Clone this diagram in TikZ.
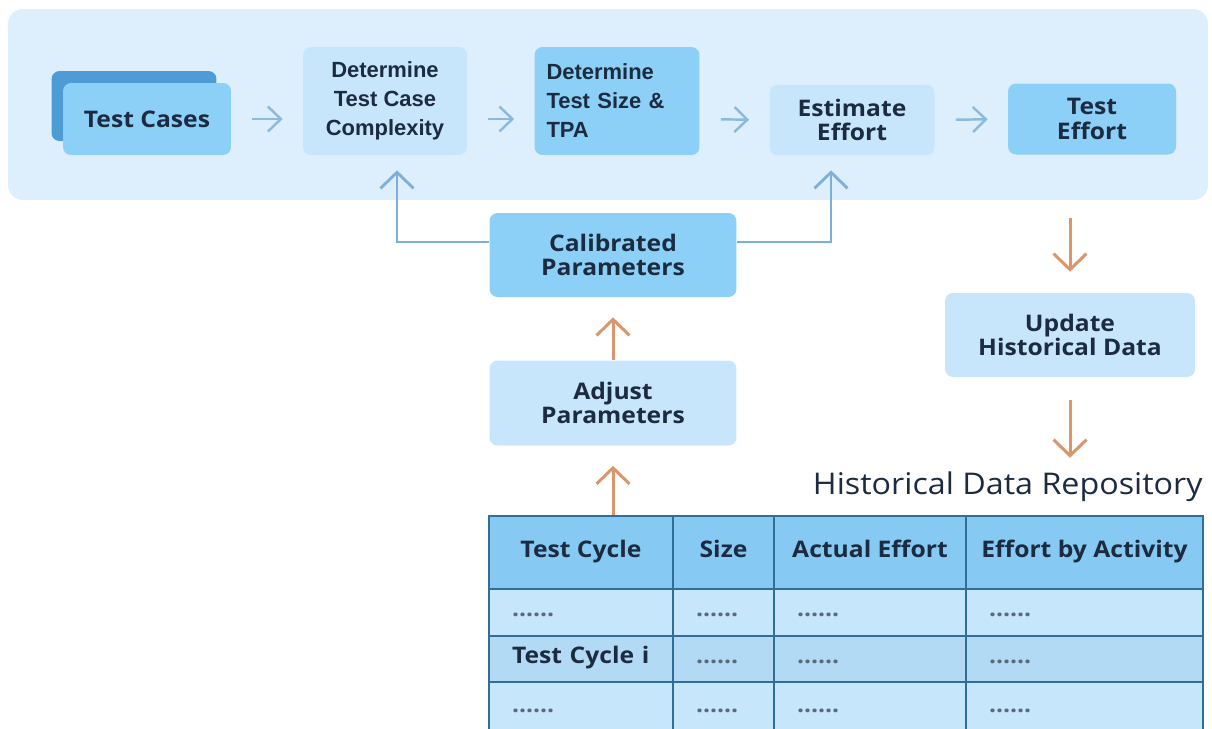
\documentclass[tikz,border=0pt]{standalone}
\usepackage{fontspec}
\setmainfont{Open Sans}[FakeStretch=1.08]
\newfontfamily\arialfont{Liberation Sans}
\usetikzlibrary{arrows.meta}
\definecolor{panelfill}{HTML}{DDEFFC}
\definecolor{boxmid}{HTML}{8CCFF7}
\definecolor{boxdark}{HTML}{4E9CD6}
\definecolor{boxlight}{HTML}{C8E6FB}
\definecolor{rowfill}{HTML}{C5E6FB}
\definecolor{rowalt}{HTML}{B2DAF4}
\definecolor{hdrfill}{HTML}{86C9F2}
\definecolor{gridink}{HTML}{2F6F97}
\definecolor{flowblue}{HTML}{8DB9DC}
\definecolor{linkblue}{HTML}{7DAFD8}
\definecolor{feedorange}{HTML}{D8966A}
\definecolor{labelink}{HTML}{1C2B3F}
\definecolor{dotgray}{HTML}{5A6A7A}
\newcommand\gapdots{{\color{dotgray}......}}
\newcommand\tabcols{1/489/673/Test Cycle, 2/673/774/Size, 3/774/966/Actual Effort, 4/966/1203/Effort by Activity}

\tikzset{
  stage/.style={rounded corners=0.16cm, inner sep=0pt, align=center, text=labelink,
    font=\bfseries\fontsize{13pt}{14pt}\selectfont},
  flow/.style={-{Straight Barb[length=0.26cm,width=0.5cm]}, flowblue, line width=1.4pt,
    shorten <=0.42cm, shorten >=0.4cm},
  link/.style={-{Straight Barb[length=0.32cm,width=0.66cm]}, linkblue, line width=1.6pt},
  feed/.style={-{Straight Barb[length=0.32cm,width=0.66cm]}, feedorange, line width=1.7pt},
  cell/.style={draw=gridink, line width=1.3pt, inner ysep=0pt, text=labelink,
    font=\bfseries\fontsize{13pt}{14pt}\selectfont}
}

\begin{document}
\begin{tikzpicture}[x=0.02cm, y=-0.02cm]
  \useasboundingbox (0,0) rectangle (1212,728);
  \clip (0,0) rectangle (1212,728);
  % upper band: estimation flow
  \fill[panelfill, rounded corners=0.3cm] (8,9) rectangle (1208,200);
  \node[stage, fill=boxdark, minimum width=3.3cm, minimum height=1.4cm] (tcback) at (134,106) {};
  \node[stage, fill=boxmid, minimum width=3.36cm, minimum height=1.44cm] (tc) at (147,119) {Test Cases};
  \node[stage, fill=boxlight, minimum width=3.28cm, minimum height=2.16cm,
    font=\arialfont\bfseries\fontsize{12.5pt}{16.5pt}\selectfont] (cx) at (385,101) {Determine\\Test Case\\Complexity};
  \node[stage, fill=boxmid, minimum width=3.3cm, minimum height=2.16cm, text width=2.82cm, align=left,
    font=\arialfont\bfseries\fontsize{12.5pt}{16.5pt}\selectfont] (ts) at (617,101) {Determine\\Test Size \&\\TPA};
  \node[stage, fill=boxlight, minimum width=3.3cm, minimum height=1.4cm] (ee) at (852,120) {Estimate\\Effort};
  \node[stage, fill=boxmid, minimum width=3.36cm, minimum height=1.42cm] (te) at (1092,119) {Test\\Effort};
  \draw[flow] (tc.east) -- (cx.west |- tc.east);
  \draw[flow] (cx.east |- tc.east) -- (ts.west |- tc.east);
  \draw[flow] (ts.east |- tc.east) -- (ee.west);
  \draw[flow] (ee.east) -- (te.west);
  % calibration loop
  \node[stage, fill=boxmid, minimum width=4.94cm, minimum height=1.68cm] (cal) at (613,255) {Calibrated\\Parameters};
  \node[stage, fill=boxlight, minimum width=4.94cm, minimum height=1.7cm] (adj) at (613,403) {Adjust\\Parameters};
  \draw[link, shorten >=0.3cm] ([yshift=0.26cm]cal.west) -| ([xshift=0.24cm]cx.south);
  \draw[link, shorten >=0.3cm] ([yshift=0.26cm]cal.east) -| ([xshift=-0.42cm]ee.south);
  \draw[feed, shorten >=0.4cm] (adj.north) -- (cal.south);
  % history
  \node[stage, fill=boxlight, minimum width=5cm, minimum height=1.68cm] (upd) at (1070,335) {Update\\Historical Data};
  \draw[feed, shorten <=1.26cm, shorten >=0.42cm] (te.south -| upd.north) -- (upd.north);
  \node[anchor=east, inner sep=0pt, text=labelink, font=\fontsize{17pt}{18pt}\selectfont] (repo) at (1203,487) {Historical Data Repository};
  \draw[feed, shorten <=0.46cm, shorten >=0.28cm] (upd.south) -- (upd.south |- repo.north);
  % repository table
  \foreach \c/\xa/\xb/\txt in \tabcols
    \node[cell, fill=hdrfill, minimum width={(\xb-\xa)*0.02cm}, minimum height=1.46cm,
      text height=0.3cm, text depth=0.1cm] (h\c) at ({(\xa+\xb)/2},552.5) {\txt};
  \foreach \r/\yc/\hh/\tint/\first in {1/612.5/0.94/rowfill/\gapdots, 2/659/0.92/rowalt/Test Cycle i, 3/708.5/1.06/rowfill/\gapdots}
    \foreach \c/\xa/\xb/\txt in \tabcols {
      \ifnum\c=1 \def\entry{\first}\else \def\entry{\gapdots}\fi
      \node[cell, fill=\tint, minimum height=\hh cm, text width={(\xb-\xa)*0.02cm-0.92cm}, align=left,
        inner xsep=0.46cm, text height=0.25cm, text depth=0.08cm] (r\r\c) at ({(\xa+\xb)/2},\yc) {\entry};
    }
  \draw[feed, shorten >=0.4cm] (h1.north -| adj.south) -- (adj.south);
\end{tikzpicture}
\end{document}
